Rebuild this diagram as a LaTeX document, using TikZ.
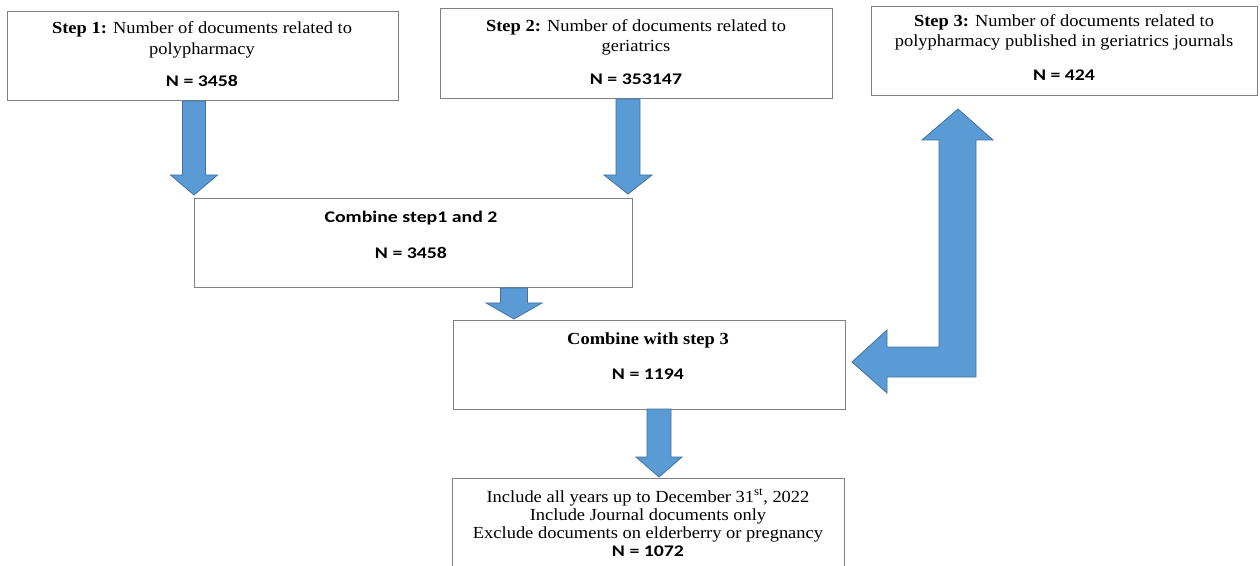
\documentclass[tikz,border=0pt]{standalone}
\usepackage{fontspec}
\setmainfont[FakeStretch=1.09]{Liberation Serif}
\newfontfamily\carl[FakeStretch=1.22]{Carlito}
\definecolor{boxline}{RGB}{128,128,128}
\definecolor{arrowfill}{RGB}{91,155,213}
\definecolor{arrowline}{RGB}{65,113,156}
\tikzset{
  flowbox/.style={draw=boxline, line width=1pt, fill=white},
  blockarrow/.style={fill=arrowfill, draw=arrowline, line width=0.8pt, line join=miter},
  sertext/.style={anchor=base, inner sep=0pt, font=\fontsize{17}{20}\selectfont},
  numtext/.style={anchor=base, inner sep=0pt, font=\carl\bfseries\fontsize{16.3}{19}\selectfont},
}
% #1 centre x, #2 top y, #3 tip y, #4 shaft half width, #5 head half width, #6 head length
\newcommand{\bdarrow}[6]{%
  \path[blockarrow] (#1-#4,#2) -- (#1+#4,#2) -- (#1+#4,#3-#6) -- (#1+#5,#3-#6)
    -- (#1,#3) -- (#1-#5,#3-#6) -- (#1-#4,#3-#6) -- cycle;}
\begin{document}
\begin{tikzpicture}[x=1bp,y=-1bp]
\clip (0,0) rectangle (1260,566);
\fill[white] (0,0) rectangle (1260,566);

% boxes
\draw[flowbox] (7,12) rectangle (398,101);
\coordinate (b1) at (202,0);
\draw[flowbox] (440,9) rectangle (832,99);
\coordinate (b2) at (636,0);
\draw[flowbox] (871,7) rectangle (1257,96);
\coordinate (b3) at (1064,0);
\draw[flowbox] (194,198) rectangle (632,287);
\coordinate (b4) at (411,0);
\draw[flowbox] (453,320) rectangle (845,409);
\coordinate (b5) at (648,0);
\draw[flowbox] (452,478) rectangle (844,575);
\coordinate (b6) at (648,0);

% texts box 1
\node[sertext] (t1a) at (b1 |- 0,34) {\textbf{Step 1:} Number of documents related to};
\node[sertext] (t1b) at (b1 |- 0,55) {polypharmacy};
\node[numtext] (t1c) at (b1 |- 0,87) {N = 3458};
% box 2
\node[sertext] (t2a) at (b2 |- 0,32) {\textbf{Step 2:} Number of documents related to};
\node[sertext] (t2b) at (b2 |- 0,52) {geriatrics};
\node[numtext] (t2c) at (b2 |- 0,85) {N = 353147};
% box 3
\node[sertext] (t3a) at (b3 |- 0,27) {\textbf{Step 3:} Number of documents related to};
\node[sertext] (t3b) at (b3 |- 0,47) {polypharmacy published in geriatrics journals};
\node[numtext] (t3c) at (b3 |- 0,81) {N = 424};
% box 4
\node[numtext] (t4a) at (b4 |- 0,223) {Combine step1 and 2};
\node[numtext] (t4b) at (b4 |- 0,259) {N = 3458};
% box 5
\node[sertext] (t5a) at (b5 |- 0,345) {\textbf{Combine with step 3}};
\node[numtext] (t5b) at (b5 |- 0,379) {N = 1194};
% box 6
\node[sertext] (t6a) at (b6 |- 0,502) {Include all years up to December 31\textsuperscript{st}, 2022};
\node[sertext] (t6b) at (b6 |- 0,520) {Include Journal documents only};
\node[sertext] (t6c) at (b6 |- 0,538) {Exclude documents on elderberry or pregnancy};
\node[numtext] (t6d) at (b6 |- 0,556) {N = 1072};

% straight block arrows
\bdarrow{194}{101}{195}{11.5}{23.5}{20}
\bdarrow{628}{99}{194}{12}{24}{19}
\bdarrow{514}{288}{319}{13.5}{28}{16}
\bdarrow{659}{409}{477}{12}{23}{20}

% bent double-headed arrow between step 3 and combine with step 3
\path[blockarrow] (958,109) -- (993,140) -- (976,140) -- (976,377) -- (887,377)
  -- (887,393) -- (852,362) -- (887,330) -- (887,347) -- (939,347)
  -- (939,140) -- (922,140) -- cycle;
\end{tikzpicture}
\end{document}
